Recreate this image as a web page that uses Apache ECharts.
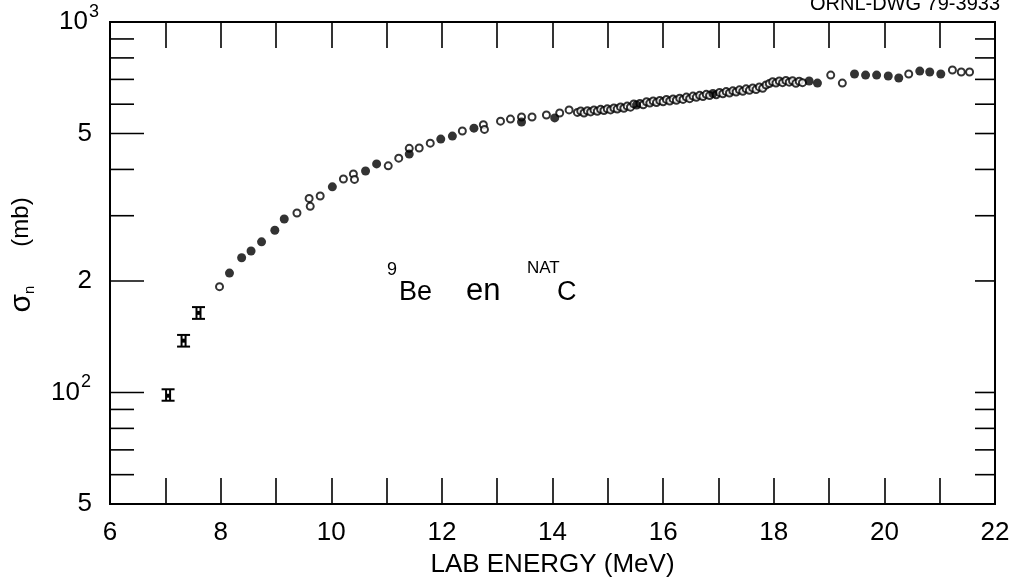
<!DOCTYPE html>
<html>
<head>
<meta charset="utf-8">
<script src="https://cdn.jsdelivr.net/npm/echarts@6/dist/echarts.min.js"></script>
<style>
  html, body { margin: 0; padding: 0; background: #fff; }
  #chart { width: 1013px; height: 581px; }
</style>
</head>
<body>
<div id="chart"></div>
<script>
// Lab energy (MeV) vs cross section sigma_n (mb), 9Be + natC.

// y-axis tick marks (mb) and the labelled subset
const yTickValues = [50, 60, 70, 80, 90, 100, 200, 300, 400, 500, 600, 700, 800, 900, 1000];
const yLabelValues = [50, 100, 200, 500, 1000];
const yLabelBase = ['5', '10', '2', '5', '10'];
const yLabelExp = ['', '2', '', '', '3'];

// points with error bars at the lowest energies
const errEnergy = [7.05, 7.33, 7.60];
const errValue = [98, 138, 164];
const errLow = [95, 133, 158];
const errHigh = [102, 143, 170];

// solid dots
const filledPoints = [
  [8.16, 210], [8.38, 231], [8.55, 241], [8.74, 255], [8.98, 274], [9.15, 294],
  [10.02, 359], [10.62, 396], [10.82, 414], [11.41, 440], [11.98, 483], [12.19, 492],
  [12.58, 517], [13.44, 537], [14.04, 551], [15.52, 597], [16.90, 641],
  [18.64, 693], [18.79, 684], [19.46, 724], [19.66, 719], [19.86, 719], [20.07, 715],
  [20.26, 706], [20.64, 737], [20.82, 733], [21.02, 724]
];

// open circles
const openPoints = [
  [7.98, 193], [9.38, 305], [9.60, 334], [9.62, 318], [9.80, 339], [10.22, 377],
  [10.40, 389], [10.42, 376], [11.03, 409], [11.22, 429], [11.41, 456], [11.59, 457],
  [11.79, 471], [12.37, 508], [12.75, 528], [12.77, 513], [13.06, 540], [13.24, 547],
  [13.44, 554], [13.63, 554], [13.89, 561], [14.13, 568], [14.30, 579],
  [14.45, 570], [14.51, 575], [14.57, 568], [14.63, 576], [14.69, 572], [14.75, 579],
  [14.81, 574], [14.87, 581], [14.93, 577], [14.99, 583], [15.05, 579], [15.11, 586],
  [15.17, 582], [15.23, 590], [15.29, 585], [15.35, 593], [15.41, 589], [15.47, 601],
  [15.58, 603], [15.64, 598], [15.70, 609], [15.76, 604], [15.82, 612], [15.88, 606],
  [15.94, 614], [16.00, 609], [16.06, 618], [16.12, 612], [16.18, 620], [16.24, 615],
  [16.30, 623], [16.36, 618], [16.42, 627], [16.48, 621], [16.54, 631], [16.60, 626],
  [16.66, 634], [16.72, 629], [16.78, 638], [16.84, 633], [16.96, 636], [17.02, 645],
  [17.08, 640], [17.14, 649], [17.20, 643], [17.26, 652], [17.32, 647], [17.38, 656],
  [17.44, 650], [17.50, 660], [17.56, 654], [17.62, 664], [17.68, 657], [17.74, 668],
  [17.80, 662], [17.86, 676], [17.92, 682], [17.98, 690], [18.04, 684], [18.10, 693],
  [18.16, 686], [18.22, 695], [18.28, 688], [18.34, 694], [18.40, 683], [18.46, 692],
  [18.52, 686],
  [19.03, 719], [19.24, 684], [20.44, 724], [21.23, 742], [21.39, 733], [21.54, 733]
];

const FONT = '"Liberation Sans", Arial, sans-serif';
const INK = '#000';
const longTicks = [100, 200, 500];
// how far the "10^n" labels sit left of the frame
const powerLabelGap = { 100: 30, 1000: 22 };

const chart = echarts.init(document.getElementById('chart'), null, { renderer: 'canvas' });

function xAxisDef(position) {
  return {
    type: 'value',
    position: position,
    min: 6,
    max: 22,
    interval: 1,
    axisLine: { show: false },
    axisTick: { show: true, inside: true, length: 26, lineStyle: { color: INK, width: 1.6 } },
    axisLabel: {
      show: position === 'bottom',
      color: INK,
      fontSize: 26,
      fontFamily: FONT,
      margin: 16,
      formatter: v => (v % 2 === 0 ? String(v) : '')
    },
    splitLine: { show: false },
    name: position === 'bottom' ? 'LAB ENERGY (MeV)' : '',
    nameLocation: 'middle',
    nameGap: 48,
    nameTextStyle: { color: INK, fontSize: 26, fontFamily: FONT }
  };
}

const option = {
  animation: false,
  backgroundColor: '#fff',
  grid: {
    left: 110, right: 18, top: 22, bottom: 77,
    outerBoundsMode: 'none',
    containLabel: false,
    show: true, borderColor: INK, borderWidth: 2, backgroundColor: 'transparent'
  },
  xAxis: [xAxisDef('bottom'), xAxisDef('top')],
  yAxis: {
    type: 'log',
    logBase: 10,
    min: 50,
    max: 1000,
    axisLine: { show: false },
    axisTick: { show: false },
    axisLabel: { show: false },
    splitLine: { show: false }
  },
  graphic: [
    {
      type: 'text', right: 13, top: -6,
      style: { text: 'ORNL-DWG 79-3933', fill: INK, font: '20px ' + FONT }
    },
    {
      type: 'text', x: 21, y: 222, rotation: Math.PI / 2,
      style: { text: '(mb)', align: 'center', verticalAlign: 'middle', fill: INK, font: '24px ' + FONT }
    },
    {
      type: 'text', x: 22, y: 299, rotation: Math.PI / 2,
      style: {
        text: '{s|σ}{n|n}',
        align: 'center', verticalAlign: 'middle',
        rich: {
          s: { fontSize: 30, fontFamily: FONT, fill: INK },
          n: { fontSize: 15, fontFamily: FONT, fill: INK, verticalAlign: 'bottom' }
        }
      }
    },
    { type: 'text', x: 387, y: 261, style: { text: '9', fill: INK, font: '18px ' + FONT } },
    { type: 'text', x: 399, y: 279, style: { text: 'Be', fill: INK, font: '27px ' + FONT } },
    { type: 'text', x: 466, y: 276, style: { text: 'en', fill: INK, font: '31px ' + FONT } },
    { type: 'text', x: 527, y: 260, style: { text: 'NAT', fill: INK, font: '17px ' + FONT } },
    { type: 'text', x: 557, y: 279, style: { text: 'C', fill: INK, font: '27px ' + FONT } }
  ],
  series: [
    {
      // y tick marks, left and right frame edges
      type: 'custom',
      coordinateSystem: 'cartesian2d',
      clip: false,
      silent: true,
      data: yTickValues.map(v => [6, v]),
      renderItem(params, api) {
        const v = api.value(1);
        const y = api.coord([6, v])[1];
        const cs = params.coordSys;
        const left = cs.x, right = cs.x + cs.width;
        const len = longTicks.includes(v) ? 34 : 24;
        return {
          type: 'group',
          children: [
            { type: 'line', shape: { x1: left, y1: y, x2: left + len, y2: y }, style: { stroke: INK, lineWidth: 1.6 } },
            { type: 'line', shape: { x1: right, y1: y, x2: right - 20, y2: y }, style: { stroke: INK, lineWidth: 1.6 } }
          ]
        };
      }
    },
    {
      // y tick labels
      type: 'custom',
      coordinateSystem: 'cartesian2d',
      clip: false,
      silent: true,
      data: yLabelValues.map((v, i) => [6, v, i]),
      renderItem(params, api) {
        const i = api.value(2);
        const v = api.value(1);
        const y = api.coord([6, v])[1];
        const cs = params.coordSys;
        const base = yLabelBase[i], exp = yLabelExp[i];
        const children = [];
        if (exp) {
          const gap = powerLabelGap[v] || 24;
          children.push({ type: 'text', style: { x: cs.x - gap, y: y, text: base, align: 'right', verticalAlign: 'middle', fill: INK, font: '26px ' + FONT } });
          children.push({ type: 'text', style: { x: cs.x - gap + 1, y: y - 10, text: exp, align: 'left', verticalAlign: 'middle', fill: INK, font: '18px ' + FONT } });
        } else {
          children.push({ type: 'text', style: { x: cs.x - 18, y: y, text: base, align: 'right', verticalAlign: 'middle', fill: INK, font: '26px ' + FONT } });
        }
        return { type: 'group', children };
      }
    },
    {
      // error bars
      type: 'custom',
      coordinateSystem: 'cartesian2d',
      silent: true,
      data: errEnergy.map((x, i) => [x, errValue[i], errLow[i], errHigh[i]]),
      renderItem(params, api) {
        const x = api.value(0);
        const c = api.coord([x, api.value(1)]);
        const lo = api.coord([x, api.value(2)]);
        const hi = api.coord([x, api.value(3)]);
        const w = 6.5;
        const s = { stroke: INK, lineWidth: 2 };
        return {
          type: 'group',
          children: [
            { type: 'line', shape: { x1: c[0] - w, y1: hi[1], x2: c[0] + w, y2: hi[1] }, style: s },
            { type: 'line', shape: { x1: c[0] - w, y1: lo[1], x2: c[0] + w, y2: lo[1] }, style: s },
            { type: 'line', shape: { x1: c[0] - 2, y1: hi[1], x2: c[0] - 2, y2: lo[1] }, style: s },
            { type: 'line', shape: { x1: c[0] + 2, y1: hi[1], x2: c[0] + 2, y2: lo[1] }, style: s },
            { type: 'rect', shape: { x: c[0] - 2, y: c[1] - 2, width: 4, height: 4 }, style: { fill: INK } }
          ]
        };
      }
    },
    {
      type: 'scatter',
      data: openPoints,
      symbol: 'circle',
      symbolSize: 7,
      itemStyle: { color: '#fff', borderColor: INK, borderWidth: 2 },
      silent: true
    },
    {
      type: 'scatter',
      data: filledPoints,
      symbol: 'circle',
      symbolSize: 9,
      itemStyle: { color: INK },
      silent: true
    }
  ]
};

chart.setOption(option);
</script>
</body>
</html>
